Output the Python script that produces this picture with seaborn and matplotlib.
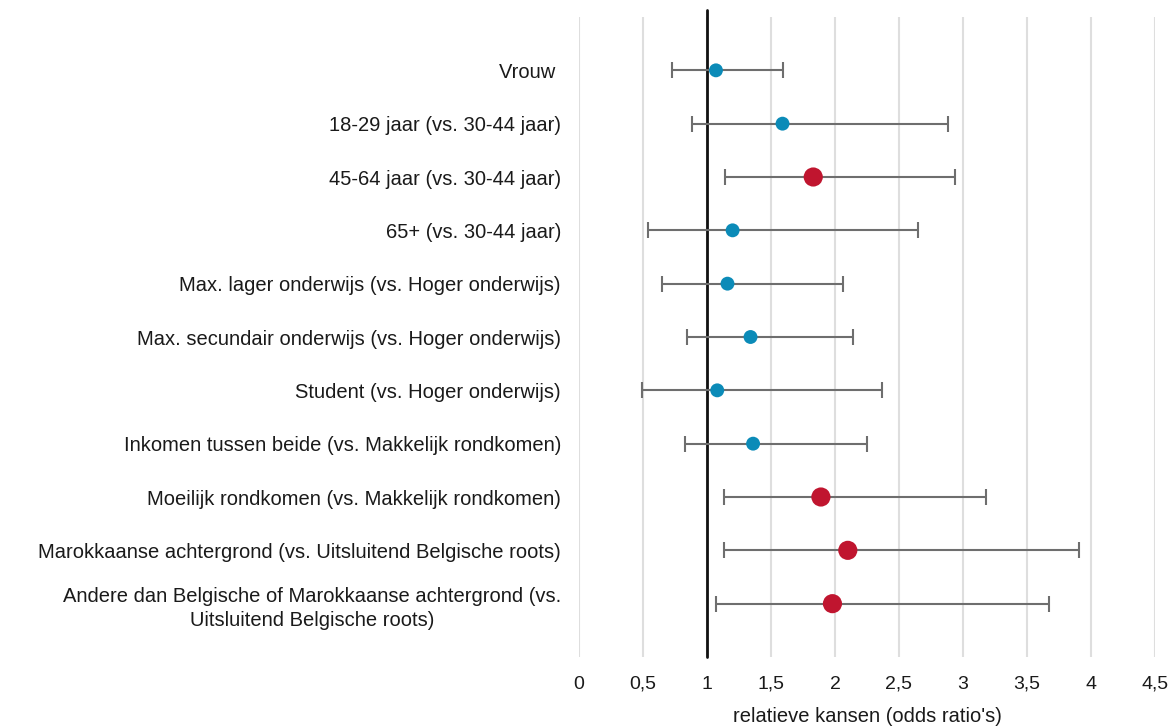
import numpy as np
import pandas as pd
import matplotlib
matplotlib.use("Agg")
import matplotlib.pyplot as plt
from matplotlib.ticker import FuncFormatter, MultipleLocator
import seaborn as sns

labels = [
    "Vrouw ",
    "18-29 jaar (vs. 30-44 jaar)",
    "45-64 jaar (vs. 30-44 jaar)",
    "65+ (vs. 30-44 jaar)",
    "Max. lager onderwijs (vs. Hoger onderwijs)",
    "Max. secundair onderwijs (vs. Hoger onderwijs)",
    "Student (vs. Hoger onderwijs)",
    "Inkomen tussen beide (vs. Makkelijk rondkomen)",
    "Moeilijk rondkomen (vs. Makkelijk rondkomen)",
    "Marokkaanse achtergrond (vs. Uitsluitend Belgische roots)",
    "Andere dan Belgische of Marokkaanse achtergrond (vs.\nUitsluitend Belgische roots)",
]
odds = [1.07, 1.59, 1.83, 1.20, 1.16, 1.34, 1.08, 1.36, 1.89, 2.10, 1.98]
lower = [0.73, 0.88, 1.14, 0.54, 0.65, 0.84, 0.49, 0.83, 1.13, 1.13, 1.07]
upper = [1.59, 2.88, 2.94, 2.65, 2.06, 2.14, 2.37, 2.25, 3.18, 3.91, 3.67]

BLUE = "#0b8bb8"
RED = "#c0152f"
GREY = "#6e6e6e"
TXT = "#1a1a1a"

df = pd.DataFrame({"label": labels, "odds": odds, "lower": lower, "upper": upper})
df["pos"] = np.arange(len(df))
df["sig"] = np.where(df["lower"] > 1, "sig", "ns")

sns.set_theme(style="white")
plt.rcParams["font.family"] = ["Liberation Sans", "DejaVu Sans"]

fig = plt.figure(figsize=(11.76, 7.27), dpi=100)
ax = fig.add_axes([579 / 1176, 1 - 657 / 727, (1155 - 579) / 1176, (657 - 17) / 727])

for v in np.arange(0, 4.51, 0.5):
    ax.axvline(v, color="#dedede", lw=1.5, zorder=0)
ax.plot([1, 1], [len(df), -1.13], color="#111111", lw=2.0, zorder=1, clip_on=False)

ax.errorbar(df["odds"], df["pos"],
            xerr=[df["odds"] - df["lower"], df["upper"] - df["odds"]],
            fmt="none", ecolor=GREY, elinewidth=1.5, capsize=6, capthick=1.5, zorder=2)

sns.scatterplot(data=df, x="odds", y="pos", hue="sig", size="sig",
                palette={"ns": BLUE, "sig": RED}, sizes={"ns": 100, "sig": 190},
                linewidth=0, legend=False, ax=ax, zorder=3)

ax.set_xlim(0, 4.5)
ax.set_ylim(len(df), -1.0)
ax.xaxis.set_major_locator(MultipleLocator(0.5))
ax.xaxis.set_major_formatter(FuncFormatter(lambda v, p: ("%g" % v).replace(".", ",")))
ax.set_yticks(df["pos"])
ax.set_yticklabels(df["label"], multialignment="center", linespacing=1.35)
ax.tick_params(axis="x", length=0, pad=23, labelsize=14, colors=TXT)
ax.tick_params(axis="y", length=0, pad=13, labelsize=14.5, colors=TXT)
for t in ax.get_xticklabels():
    t.set_verticalalignment("baseline")
for s in ax.spines.values():
    s.set_visible(False)
ax.set_xlabel("relatieve kansen (odds ratio's)", fontsize=14.5, color=TXT)
ax.xaxis.set_label_coords(0.5, -(716 - 657) / (657 - 17), transform=ax.transAxes)
ax.xaxis.label.set_verticalalignment("center")
ax.set_ylabel("")
ax.grid(False)

fig.savefig("out.png", dpi=100)
